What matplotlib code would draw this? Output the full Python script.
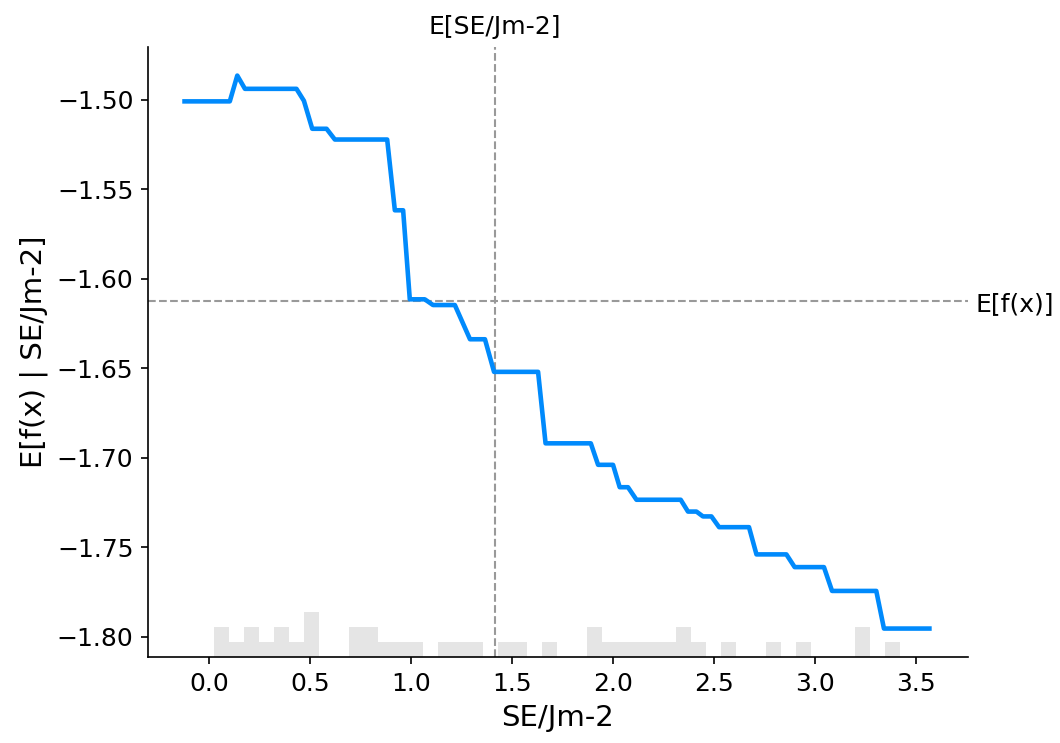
import numpy as np
import matplotlib
matplotlib.use("Agg")
import matplotlib.pyplot as plt

feature_name = "SE/Jm-2"
# partial dependence line vertices
line_x = [-0.122, 0.102, 0.139, 0.177, 0.432, 0.469, 0.510, 0.581, 0.622, 0.881,
          0.919, 0.960, 0.993, 1.067, 1.108, 1.216, 1.291, 1.365, 1.410, 1.628,
          1.665, 1.889, 1.925, 1.999, 2.032, 2.073, 2.115, 2.334, 2.370, 2.412,
          2.444, 2.486, 2.524, 2.672, 2.709, 2.857, 2.898, 3.043, 3.083, 3.302,
          3.340, 3.565]
line_y = [-1.501, -1.501, -1.4866, -1.494, -1.494, -1.5007, -1.5163, -1.5163, -1.5223, -1.5223,
          -1.5618, -1.5618, -1.6115, -1.6115, -1.6147, -1.6147, -1.6338, -1.6338, -1.652, -1.652,
          -1.6919, -1.6919, -1.7039, -1.7039, -1.7164, -1.7164, -1.7234, -1.7234, -1.7300, -1.7300,
          -1.7327, -1.7327, -1.7387, -1.7387, -1.7539, -1.7539, -1.7610, -1.7610, -1.7743, -1.7743,
          -1.7953, -1.7953]

# histogram of feature values (50 bins over the line range)
hist_range = (-0.122, 3.567)
hist_counts = [0, 0, 2, 1, 2, 1, 2, 1, 3, 0,
               0, 2, 2, 1, 1, 1, 0, 1, 1, 1,
               0, 1, 1, 0, 1, 0, 0, 2, 1, 1,
               1, 1, 1, 2, 1, 0, 1, 0, 0, 1,
               0, 1, 0, 0, 0, 2, 0, 1, 0, 0]
n_samples = 41

mean_feature = 1.414
mean_pred = -1.6125

xlim = (-0.303, 3.756)
ylim = (-1.8112, -1.4705)

blue = (0.0, 0.541, 0.988)

fig = plt.figure(figsize=(1060 / 150, 743 / 150), dpi=150)
rect = [0.1396, 0.1157, 0.9132 - 0.1396, 0.9371 - 0.1157]
ax1 = fig.add_axes(rect)

# histogram on twin axis
ax2 = ax1.twinx()
edges = np.linspace(hist_range[0], hist_range[1], len(hist_counts) + 1)
ax2.bar(edges[:-1], hist_counts, width=np.diff(edges), align="edge",
        color="black", alpha=0.1, linewidth=0)
ax2.set_ylim(0, n_samples)
ax2.set_yticks([])
for s in ax2.spines.values():
    s.set_visible(False)
ax1.set_zorder(ax2.get_zorder() + 1)
ax1.patch.set_visible(False)

ax1.plot(line_x, line_y, color=blue, linewidth=2.2)
ax1.axvline(mean_feature, color="#999999", linestyle="--", linewidth=1, zorder=-1)
ax1.axhline(mean_pred, color="#999999", linestyle="--", linewidth=1, zorder=-1)

ax1.set_xlim(*xlim)
ax1.set_ylim(*ylim)
ax1.set_yticks([-1.80, -1.75, -1.70, -1.65, -1.60, -1.55, -1.50])
ax1.set_xticks([0.0, 0.5, 1.0, 1.5, 2.0, 2.5, 3.0, 3.5])
ax1.tick_params(labelsize=12)
ax1.set_xlabel(feature_name, fontsize=14)
ax1.set_ylabel("E[f(x) | " + feature_name + "]", fontsize=14)
ax1.spines["top"].set_visible(False)
ax1.spines["right"].set_visible(False)

# top label for feature mean
ax3 = ax1.twiny()
ax3.set_xlim(*xlim)
ax3.set_xticks([mean_feature])
ax3.set_xticklabels(["E[" + feature_name + "]"])
ax3.tick_params(length=0, labelsize=12)
for s in ax3.spines.values():
    s.set_visible(False)

# right label for expected value
ax4 = ax1.twinx()
ax4.set_ylim(*ylim)
ax4.set_yticks([mean_pred])
ax4.set_yticklabels(["E[f(x)]"])
ax4.tick_params(length=0, labelsize=12)
for s in ax4.spines.values():
    s.set_visible(False)
ax2.set_xlim(*xlim)

fig.savefig("out.png", dpi=150)
